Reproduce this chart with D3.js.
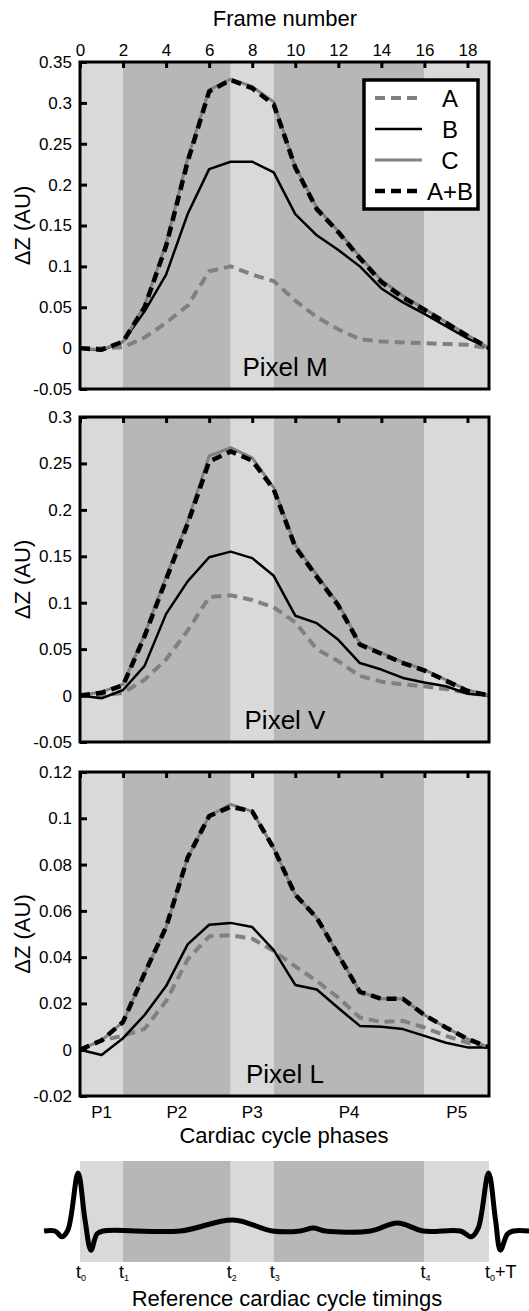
<!DOCTYPE html>
<html>
<head>
<meta charset="utf-8">
<script src="https://cdn.jsdelivr.net/npm/d3@7/dist/d3.min.js"></script>
<style>
body { margin: 0; background: #fff; }
text { font-family: Arial, "Liberation Sans", Helvetica, sans-serif; fill: #000; }
</style>
</head>
<body>
<div id="chart"></div>
<script>

/***** dane *****/

// numery klatek
var frames = [0, 1, 2, 3, 4, 5, 6, 7, 8, 9, 10, 11, 12, 13, 14, 15, 16, 17, 18, 19];
var frameTicks = [0, 2, 4, 6, 8, 10, 12, 14, 16, 18];

// fazy cyklu serca (granice w klatkach)
var phaseBounds = [0, 2, 7, 9, 16, 19];
var phaseNames = ["P1", "P2", "P3", "P4", "P5"];
var timingNames = ["0", "1", "2", "3", "4", "0"];   // indeksy dolne t
var timingSuffix = ["", "", "", "", "", "+T"];

// Pixel M
var pixelM_A  = [0, 0, 0.001, 0.013, 0.031, 0.052, 0.094, 0.100, 0.090, 0.082, 0.058, 0.038, 0.023, 0.011, 0.008, 0.007, 0.006, 0.005, 0.004, 0];
var pixelM_B  = [0, -0.003, 0.008, 0.045, 0.090, 0.164, 0.219, 0.228, 0.228, 0.215, 0.164, 0.138, 0.120, 0.100, 0.073, 0.056, 0.042, 0.027, 0.012, 0];
var pixelM_C  = [0, -0.002, 0.008, 0.052, 0.128, 0.232, 0.316, 0.329, 0.320, 0.301, 0.222, 0.172, 0.143, 0.112, 0.083, 0.064, 0.048, 0.032, 0.016, 0];
var pixelM_AB = [0, -0.002, 0.008, 0.050, 0.125, 0.228, 0.314, 0.328, 0.318, 0.298, 0.221, 0.170, 0.142, 0.110, 0.081, 0.062, 0.047, 0.031, 0.015, 0];
var pixelM_ticks = [-0.05, 0, 0.05, 0.1, 0.15, 0.2, 0.25, 0.3, 0.35];

// Pixel V
var pixelV_A  = [0, 0, 0.003, 0.017, 0.039, 0.070, 0.106, 0.108, 0.103, 0.095, 0.079, 0.050, 0.037, 0.021, 0.015, 0.012, 0.010, 0.007, 0.003, 0];
var pixelV_B  = [0, -0.003, 0.006, 0.032, 0.088, 0.123, 0.149, 0.155, 0.148, 0.129, 0.086, 0.078, 0.060, 0.035, 0.028, 0.019, 0.014, 0.010, 0.002, 0];
var pixelV_C  = [0, 0.004, 0.012, 0.066, 0.128, 0.188, 0.258, 0.267, 0.256, 0.224, 0.162, 0.130, 0.099, 0.056, 0.046, 0.036, 0.028, 0.017, 0.006, 0];
var pixelV_AB = [0, 0.003, 0.011, 0.064, 0.125, 0.185, 0.252, 0.263, 0.253, 0.222, 0.160, 0.128, 0.097, 0.055, 0.045, 0.035, 0.027, 0.016, 0.005, 0];
var pixelV_ticks = [-0.05, 0, 0.05, 0.1, 0.15, 0.2, 0.25, 0.3];

// Pixel L
var pixelL_A  = [0, 0.004, 0.006, 0.009, 0.021, 0.039, 0.049, 0.0495, 0.048, 0.0426, 0.036, 0.0297, 0.0225, 0.0139, 0.012, 0.0125, 0.0096, 0.006, 0.003, 0.001];
var pixelL_B  = [0, -0.0023, 0.005, 0.015, 0.0275, 0.0455, 0.054, 0.0548, 0.053, 0.043, 0.028, 0.026, 0.018, 0.0103, 0.0099, 0.0089, 0.006, 0.003, 0.001, 0.001];
var pixelL_C  = [0, 0.004, 0.012, 0.033, 0.053, 0.083, 0.101, 0.106, 0.103, 0.087, 0.067, 0.057, 0.041, 0.025, 0.022, 0.022, 0.015, 0.0096, 0.0047, 0.001];
var pixelL_AB = [0, 0.004, 0.012, 0.033, 0.053, 0.083, 0.101, 0.105, 0.103, 0.087, 0.067, 0.057, 0.041, 0.025, 0.022, 0.022, 0.015, 0.0096, 0.0047, 0.001];
var pixelL_ticks = [-0.02, 0, 0.02, 0.04, 0.06, 0.08, 0.1, 0.12];

// EKG referencyjne: czas w klatkach, amplituda (R = 1)
var ecgTime = [-1.67, -1.16, -0.84, -0.56, -0.09, 0.23, 0.51, 0.79, 1.07, 4.65, 7.12, 8.93, 10.23, 10.84, 11.4, 13.5, 14.74, 15.95, 17.67, 18.19, 18.5, 18.98, 19.3, 19.53, 19.86, 20.14, 20.9];
var ecgAmp  = [0, 0, -0.1, 0.02, 1.0, 0.2, -0.33, -0.05, 0, 0, 0.19, 0, 0, 0.05, 0, 0, 0.14, 0, 0, -0.1, 0.05, 1.0, 0.2, -0.33, -0.05, 0, 0];

var seriesNames = ["A", "B", "C", "A+B"];


/***** obszar rysowania *****/

var width = 529, height = 1311;
var light = "#d9d9d9", dark = "#b7b7b7", gray = "#808080";

var svg = d3.select("#chart")
    .append("svg")
    .attr("width", width)
    .attr("height", height);

var x = d3.scaleLinear().domain([0, 19]).range([80, 489]);

// styl linii: A, B, C, A+B
var lineStyle = [
    {color: gray, w: 4, dash: "10,6"},
    {color: "#000", w: 2.5, dash: null},
    {color: gray, w: 3, dash: null},
    {color: "#000", w: 4.5, dash: "10,6"}
];

var panels = [
    {top: 62,  bottom: 389,  dom: [-0.05, 0.35], ticks: pixelM_ticks, series: [pixelM_A, pixelM_B, pixelM_C, pixelM_AB], name: "Pixel M"},
    {top: 417, bottom: 742,  dom: [-0.05, 0.3],  ticks: pixelV_ticks, series: [pixelV_A, pixelV_B, pixelV_C, pixelV_AB], name: "Pixel V"},
    {top: 772, bottom: 1096, dom: [-0.02, 0.12], ticks: pixelL_ticks, series: [pixelL_A, pixelL_B, pixelL_C, pixelL_AB], name: "Pixel L"}
];

var bands = phaseNames.map(function(n, i){ return {x0: phaseBounds[i], x1: phaseBounds[i+1], fill: i % 2 == 0 ? light : dark}; });

var fmt = function(v){ return String(+v.toFixed(2)); };

panels.forEach(function(p, pi){

    var y = d3.scaleLinear().domain(p.dom).range([p.bottom, p.top]);
    var g = svg.append("g");

    // tlo - fazy
    g.selectAll("rect.band").data(bands).enter().append("rect")
        .attr("x", function(d){ return x(d.x0); })
        .attr("width", function(d){ return x(d.x1) - x(d.x0); })
        .attr("y", p.top)
        .attr("height", p.bottom - p.top)
        .attr("fill", function(d){ return d.fill; });

    // linie
    var line = d3.line()
        .x(function(d, i){ return x(frames[i]); })
        .y(function(d){ return y(d); });

    p.series.forEach(function(s, si){
        g.append("path")
            .attr("d", line(s))
            .attr("fill", "none")
            .attr("stroke", lineStyle[si].color)
            .attr("stroke-width", lineStyle[si].w)
            .attr("stroke-dasharray", lineStyle[si].dash)
            .attr("stroke-linejoin", "round");
    });

    // osie
    var top = g.append("g")
        .attr("transform", "translate(0," + p.top + ")")
        .call(d3.axisTop(x).tickValues(frameTicks).tickSize(-6).tickPadding(6));
    if (pi > 0) top.selectAll("text").remove();

    var left = g.append("g")
        .attr("transform", "translate(" + x(0) + ",0)")
        .call(d3.axisLeft(y).tickValues(p.ticks).tickFormat(fmt).tickSize(-7).tickPadding(8));

    [top, left].forEach(function(a){
        a.select(".domain").remove();
        a.selectAll("line").attr("stroke", "#000").attr("stroke-width", 3);
        a.selectAll("text").style("font-size", "17px").style("font-family", "Arial, 'Liberation Sans', sans-serif");
    });

    // ramka
    g.append("rect")
        .attr("x", x(0)).attr("y", p.top)
        .attr("width", x(19) - x(0)).attr("height", p.bottom - p.top)
        .attr("fill", "none").attr("stroke", "#000").attr("stroke-width", 3);

    g.append("text")
        .attr("x", 285).attr("y", p.bottom - 13)
        .attr("text-anchor", "middle")
        .style("font-size", "26px")
        .text(p.name);

    g.append("text")
        .attr("transform", "translate(30," + (p.top + p.bottom) / 2 + ") rotate(-90)")
        .attr("text-anchor", "middle")
        .style("font-size", "22px")
        .text("\u0394Z (AU)");
});

// tytul osi gornej
svg.append("text")
    .attr("x", 285).attr("y", 26)
    .attr("text-anchor", "middle")
    .style("font-size", "22px")
    .text("Frame number");

// legenda
var leg = svg.append("g");
leg.append("rect")
    .attr("x", 364).attr("y", 80).attr("width", 114).attr("height", 129)
    .attr("fill", "#fff").attr("stroke", "#000").attr("stroke-width", 3.5);

seriesNames.forEach(function(n, i){
    var yy = 98 + i * 31;
    leg.append("line")
        .attr("x1", 375).attr("x2", 422).attr("y1", yy).attr("y2", yy)
        .attr("stroke", lineStyle[i].color)
        .attr("stroke-width", lineStyle[i].w)
        .attr("stroke-dasharray", lineStyle[i].dash);
    leg.append("text")
        .attr("x", 450).attr("y", yy + 9)
        .attr("text-anchor", "middle")
        .style("font-size", "24px")
        .text(n);
});

// fazy pod ostatnim wykresem
svg.selectAll("text.phase").data(phaseNames).enter().append("text")
    .attr("x", function(d, i){ return x((phaseBounds[i] + phaseBounds[i+1]) / 2); })
    .attr("y", 1118)
    .attr("text-anchor", "middle")
    .style("font-size", "17px")
    .text(function(d){ return d; });

svg.append("text")
    .attr("x", 284).attr("y", 1143)
    .attr("text-anchor", "middle")
    .style("font-size", "22px")
    .text("Cardiac cycle phases");


/***** EKG na dole *****/

var ecgY = d3.scaleLinear().domain([0, 1]).range([1231, 1173]);

svg.selectAll("rect.ecgband").data(bands).enter().append("rect")
    .attr("x", function(d){ return x(d.x0); })
    .attr("width", function(d){ return x(d.x1) - x(d.x0); })
    .attr("y", 1161)
    .attr("height", 101)
    .attr("fill", function(d){ return d.fill; });

var ecgLine = d3.line()
    .x(function(d, i){ return x(ecgTime[i]); })
    .y(function(d){ return ecgY(d); })
    .curve(d3.curveCatmullRom.alpha(0.5));

svg.append("path")
    .attr("d", ecgLine(ecgAmp))
    .attr("fill", "none")
    .attr("stroke", "#000")
    .attr("stroke-width", 5)
    .attr("stroke-linejoin", "round");

// t0, t1, ...
var tl = svg.selectAll("text.timing").data(phaseBounds).enter().append("text")
    .attr("x", function(d){ return x(d) - 4; })
    .attr("y", 1278)
    .style("font-size", "18px");
tl.append("tspan").text("t");
tl.append("tspan")
    .attr("dy", 3)
    .style("font-size", "9px")
    .text(function(d, i){ return timingNames[i]; });
tl.append("tspan")
    .attr("dy", -3)
    .text(function(d, i){ return timingSuffix[i]; });

svg.append("text")
    .attr("x", 287).attr("y", 1306)
    .attr("text-anchor", "middle")
    .style("font-size", "22px")
    .text("Reference cardiac cycle timings");

</script>
</body>
</html>
